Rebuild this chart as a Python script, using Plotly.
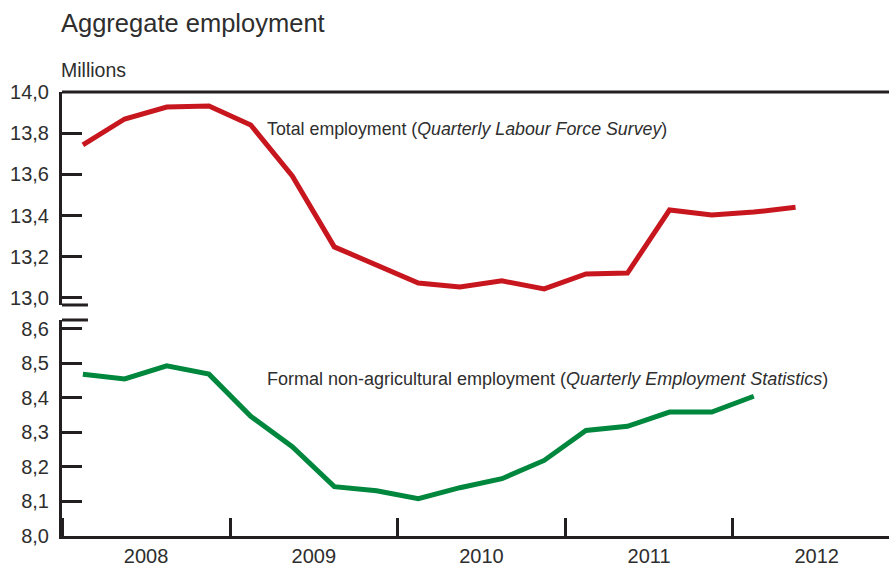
import plotly.graph_objects as go
import pandas as pd

# Quarterly observations, 2008Q1 onwards (millions)
quarters_total = ["2008Q1", "2008Q2", "2008Q3", "2008Q4", "2009Q1", "2009Q2", "2009Q3", "2009Q4",
                  "2010Q1", "2010Q2", "2010Q3", "2010Q4", "2011Q1", "2011Q2", "2011Q3", "2011Q4",
                  "2012Q1", "2012Q2"]
total_employment = [13.743, 13.869, 13.927, 13.932, 13.840, 13.592, 13.248, 13.160,
                    13.073, 13.053, 13.083, 13.044, 13.117, 13.121, 13.427, 13.403,
                    13.417, 13.440]

quarters_formal = quarters_total[:17]
formal_employment = [8.469, 8.455, 8.493, 8.469, 8.347, 8.259, 8.143, 8.131,
                     8.108, 8.140, 8.166, 8.219, 8.306, 8.318, 8.359, 8.359,
                     8.405]

top_ticks = [13.0, 13.2, 13.4, 13.6, 13.8, 14.0]
bottom_ticks = [8.0, 8.1, 8.2, 8.3, 8.4, 8.5, 8.6]

RED = "#c8161e"
GREEN = "#00873e"
INK = "#231f20"
TEXT = "#2e2e2e"
FONT = "Liberation Sans, Arial, sans-serif"


def quarter_mid(q):
    # centre of the quarter, used as the x position of each observation
    p = pd.Period(q, freq="Q")
    return p.start_time + (p.end_time - p.start_time) / 2


x_total = [quarter_mid(q) for q in quarters_total]
x_formal = [quarter_mid(q) for q in quarters_formal]

fig = go.Figure()
fig.add_trace(go.Scatter(x=x_total, y=total_employment, mode="lines",
                         line=dict(color=RED, width=5), yaxis="y", xaxis="x",
                         showlegend=False, hoverinfo="skip"))
fig.add_trace(go.Scatter(x=x_formal, y=formal_employment, mode="lines",
                         line=dict(color=GREEN, width=5), yaxis="y2", xaxis="x",
                         showlegend=False, hoverinfo="skip"))

axis_common = dict(
    showline=True, linecolor=INK, linewidth=3,
    ticks="inside", ticklen=20, tickwidth=3, tickcolor=INK,
    showgrid=False, zeroline=False,
    tickfont=dict(family=FONT, size=20, color=TEXT),
    ticklabelstandoff=6,
    tickformat=".1f",
)

fig.update_layout(
    width=889, height=567,
    margin=dict(l=62, r=0, t=92, b=31),
    paper_bgcolor="white", plot_bgcolor="white",
    separators=", ",
    font=dict(family=FONT, color=TEXT),
    xaxis=dict(
        type="date",
        range=["2008-01-01", "2012-12-06"],
        tick0="2008-01-01", dtick="M12", tickformat="%Y",
        ticklabelmode="period",
        showline=True, linecolor=INK, linewidth=3,
        ticks="inside", ticklen=18, tickwidth=3, tickcolor=INK,
        showgrid=False, zeroline=False,
        tickfont=dict(family=FONT, size=20, color=TEXT),
        anchor="y2",
    ),
    yaxis=dict(domain=[0.5203, 1.0], range=[12.966, 14.0],
               tickvals=top_ticks, anchor="x", **axis_common),
    yaxis2=dict(domain=[0.0, 0.4865], range=[8.0, 8.626],
                tickvals=bottom_ticks, anchor="x", **axis_common),
)

# top frame line and the axis-break marks
fig.add_shape(type="line", xref="paper", yref="paper", x0=0, x1=1, y0=1, y1=1,
              line=dict(color=INK, width=3))
for yb in (0.5203, 0.4865):
    fig.add_shape(type="line", xref="paper", yref="paper", x0=0, x1=0.0314,
                  y0=yb, y1=yb, line=dict(color=INK, width=3))

fig.add_annotation(text="Aggregate employment", xref="paper", yref="paper",
                   x=-0.004, y=(567 - 23 - 31) / 444, xanchor="left", yanchor="middle",
                   showarrow=False, font=dict(family=FONT, size=25.5, color=TEXT))
fig.add_annotation(text="Millions", xref="paper", yref="paper",
                   x=-0.004, y=(567 - 70 - 31) / 444, xanchor="left", yanchor="middle",
                   showarrow=False, font=dict(family=FONT, size=19.5, color=TEXT))
fig.add_annotation(text="Total employment (<i>Quarterly Labour Force Survey</i>)",
                   xref="paper", yref="paper", x=(265 - 62) / 827, y=(536 - 129) / 444,
                   xanchor="left", yanchor="middle", showarrow=False,
                   font=dict(family=FONT, size=17.8, color=TEXT))
fig.add_annotation(text="Formal non-agricultural employment (<i>Quarterly Employment Statistics</i>)",
                   xref="paper", yref="paper", x=(265 - 62) / 827, y=(536 - 379) / 444,
                   xanchor="left", yanchor="middle", showarrow=False,
                   font=dict(family=FONT, size=18.0, color=TEXT))

fig.write_html("out.html")
